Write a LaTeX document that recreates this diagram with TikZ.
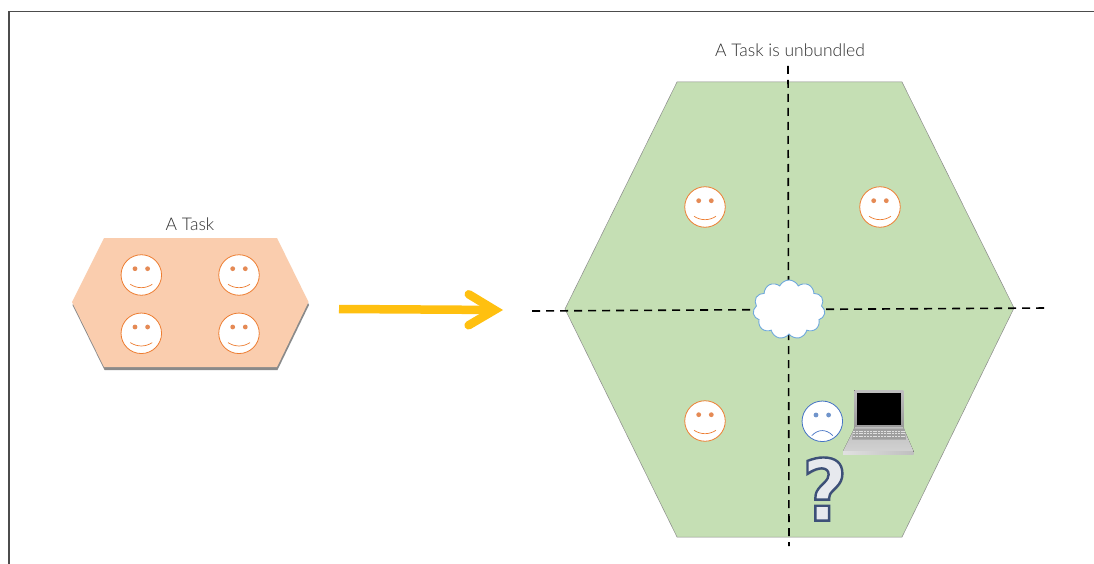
\documentclass[tikz,border=0pt]{standalone}
\usepackage{fontspec}
\setmainfont{Lato Light}
\newfontfamily\markfont{DejaVu Sans Bold}[FakeStretch=0.92]
\usetikzlibrary{arrows.meta,shapes.symbols,shadows}

\definecolor{taskfill}{HTML}{FACDAE}
\definecolor{unbundledfill}{HTML}{C5DFB4}
\definecolor{faceorange}{HTML}{ED7D31}
\definecolor{eyeorange}{HTML}{E58A55}
\definecolor{faceblue}{HTML}{4472C4}
\definecolor{eyeblue}{HTML}{7094CB}
\definecolor{cloudblue}{HTML}{6FA8DC}
\definecolor{arrowyellow}{HTML}{FFC010}
\definecolor{labelgray}{HTML}{303030}
\definecolor{markblue}{HTML}{3D5078}
\definecolor{markfill}{HTML}{E7E9EE}

\tikzset{
  label text/.style={text=labelgray, font=\fontsize{17.5}{21}\selectfont, inner sep=0pt},
  hexedge/.style={draw=black!45, line width=0.5pt},
  dashline/.style={black, line width=1.6pt, dash pattern=on 8pt off 6pt},
  happyface/.pic={
    \node[circle, draw=faceorange, fill=white, line width=0.8pt, minimum size=40.5pt, inner sep=0pt] (-head) at (0,0) {};
    \fill[eyeorange] (-6.3,-6.3) circle (2.4pt) (6.3,-6.3) circle (2.4pt);
    \draw[faceorange, line width=0.7pt] (-11,9.3) .. controls (-4,13.8) and (4,13.8) .. (11,9.3);
  },
  sadface/.pic={
    \node[circle, draw=faceblue, fill=white, line width=0.8pt, minimum size=40.5pt, inner sep=0pt] (-head) at (0,0) {};
    \fill[eyeblue] (-6.3,-6.3) circle (2.4pt) (6.3,-6.3) circle (2.4pt);
    \draw[faceblue, line width=0.7pt] (-10.5,14.3) .. controls (-4,7.6) and (4,7.6) .. (10.5,14.3);
  }
}

\begin{document}
\begin{tikzpicture}[x=1pt, y=-1pt]
    \useasboundingbox (0,0) rectangle (1094,564);
    \fill[white] (0,0) rectangle (1094,564);

    % page frame
    \draw[black!70, line width=1.2pt] (9,564) -- (9,11.5) -- (1094,11.5);

    % left hexagon
    \fill[taskfill, drop shadow={shadow xshift=0.5pt, shadow yshift=-3pt, fill=black!70, opacity=0.65}]
        (72,302) -- (104,238) -- (277,238) -- (308.5,302) -- (277,367) -- (104,367) -- cycle;
    \node[label text] (tasklabel) at (190,224.5) {A Task};
    \pic (taskfaceA) at (141.3,275) {happyface};
    \pic (taskfaceB) at (239,275) {happyface};
    \pic (taskfaceC) at (141.3,333.3) {happyface};
    \pic (taskfaceD) at (239,333.3) {happyface};

    % arrow
    \coordinate (arrowstart) at (339,309);
    \coordinate (arrowend) at (503,310);
    \draw[arrowyellow, line width=8.5pt, -{Straight Barb[length=26pt, width=31pt, line cap=round, line join=miter]}] (arrowstart) -- (arrowend);

    % right hexagon
    \filldraw[fill=unbundledfill, hexedge]
        (565,309) -- (677,82) -- (902,82) -- (1014,308) -- (902,537) -- (677,537) -- cycle;
    \node[label text] (unbundledlabel) at (790,50.5) {A Task is unbundled};

    \coordinate (axisW) at (532,311);
    \coordinate (axisE) at (1047,308);
    \coordinate (axisN) at (788,66);
    \coordinate (axisS) at (789,546);
    \draw[dashline] (axisW) -- (axisE);
    \draw[dashline] (axisN) -- (axisS);

    \node[cloud, cloud puffs=11, cloud puff arc=130, aspect=1.2, draw=cloudblue, fill=white, line width=0.9pt,
        minimum width=72pt, minimum height=59pt, inner sep=0pt] (cloudhub) at (789,309.5) {};

    \pic (cornerfaceA) at (705,207) {happyface};
    \pic (cornerfaceB) at (880,207) {happyface};
    \pic (cornerfaceC) at (705,421) {happyface};
    \pic (cornerfaceD) at (822.3,421.3) {sadface};

    % laptop
    \fill[top color=black!25, bottom color=black!40] (854.3,390) rectangle (903.3,427);
    \fill[black] (857.3,392.7) rectangle (900.7,425);
    \fill[top color=black!25, bottom color=black!18] (855,427) -- (903,427) -- (913.5,451) -- (843,451) -- cycle;
    \fill[black!38] (853.5,428.5) -- (904.5,428.5) -- (906,439.5) -- (852,439.5) -- cycle;
    \foreach \i in {431,433.5,436}
        \draw[black!12, line width=0.5pt, dash pattern=on 2pt off 0.8pt] (853,\i) -- (905,\i);
    \fill[left color=black!12, right color=black!25] (843,451) rectangle (913.5,454);

    % question mark
    \node[inner sep=0pt, text=black!50, opacity=0.45] (markshadow) at (826,490.5) {\markfont\fontsize{85}{85}\selectfont ?};
    \node[inner sep=0pt, text=markfill] (questionmark) at (824.8,489)
        {\special{pdf:code q 2 Tr 2.4 w 0.239 0.314 0.47 RG}\markfont\fontsize{85}{85}\selectfont ?\special{pdf:code Q}};
\end{tikzpicture}
\end{document}
